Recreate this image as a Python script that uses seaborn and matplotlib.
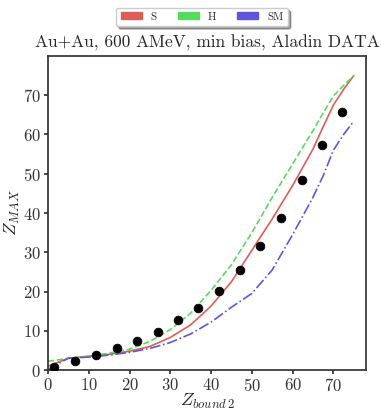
import numpy as np
import pandas as pd
import seaborn as sns
import matplotlib
matplotlib.use("Agg")
import matplotlib.pyplot as plt
from matplotlib.patches import Patch

# ---- data ----
zb_model = [0, 2.5, 5, 10, 15, 20, 25, 30, 35, 40, 45, 50, 55, 60, 65, 67.5, 70, 72.5, 75]
zmax_S = [1.0, 2.0, 3.0, 3.5, 4.0, 4.8, 6.0, 8.3, 11.5, 16.3, 22.5, 30.5, 38.5, 47.0, 56.3, 62.0, 67.5, 71.5, 75.0]
zmax_H = [2.2, 2.6, 3.0, 3.5, 4.3, 5.3, 7.3, 10.3, 14.5, 20.3, 26.8, 35.0, 44.0, 52.5, 61.0, 65.5, 69.8, 72.5, 75.0]
zmax_SM = [0.0, 1.6, 3.0, 3.3, 3.8, 4.5, 5.5, 7.0, 9.2, 12.2, 16.0, 19.5, 25.5, 34.5, 44.0, 49.5, 56.0, 60.0, 63.4]

zb_data = [1.5, 6.6, 11.8, 16.9, 21.9, 26.9, 31.9, 36.9, 41.9, 47.0, 52.1, 57.2, 62.2, 67.1, 72.2]
zmax_data = [0.8, 2.2, 3.8, 5.5, 7.3, 9.8, 12.7, 15.9, 20.2, 25.4, 31.7, 38.8, 48.5, 57.2, 65.8]

labels = ["S", "H", "SM"]

sns.set_theme(style="ticks")
plt.rcParams["font.family"] = "serif"
plt.rcParams["font.serif"] = ["cmr10", "DejaVu Serif"]
plt.rcParams["mathtext.fontset"] = "cm"
plt.rcParams["axes.formatter.use_mathtext"] = True

colors = sns.color_palette("hls", 3)

fig = plt.figure(figsize=(3.82, 4.11), dpi=100)
ax = fig.add_axes([48 / 382, 1 - 370 / 411, (366 - 48) / 382, (370 - 56) / 411])

df = pd.DataFrame({"zb": zb_model * 3,
                   "zmax": zmax_S + zmax_H + zmax_SM,
                   "model": ["S"] * len(zb_model) + ["H"] * len(zb_model) + ["SM"] * len(zb_model)})
styles = {"S": "-", "H": "--", "SM": "-."}
for lab, col in zip(labels, colors):
    sub = df[df["model"] == lab]
    sns.lineplot(data=sub, x="zb", y="zmax", ax=ax, color=col, linestyle=styles[lab], lw=1.2)

sns.scatterplot(x=zb_data, y=zmax_data, ax=ax, color="black", s=40, edgecolor="black", zorder=5)

ax.set_xlim(0, 78)
ax.set_ylim(0, 80)
ax.set_xticks([0, 10, 20, 30, 40, 50, 60, 70])
ax.set_yticks([0, 10, 20, 30, 40, 50, 60, 70])
ax.tick_params(labelsize=12, length=3, pad=2, colors="#333333", labelcolor="#333333")
for s in ax.spines.values():
    s.set_color("#333333")
ax.set_xlabel(r"$Z_{bound\,2}$", fontsize=13, labelpad=-1.5)
ax.set_ylabel(r"$Z_{MAX}$", fontsize=13, labelpad=1)
ax.set_title("Au+Au, 600 AMeV, min bias, Aladin DATA", fontsize=12.5, pad=6)

handles = [Patch(facecolor=c, edgecolor=c) for c in colors]
fig.legend(handles, labels, loc="center", bbox_to_anchor=(202 / 382, 1 - 17 / 411), ncol=3,
           fontsize=8, frameon=True, fancybox=True, shadow=True, handlelength=1.9,
           handleheight=0.55, columnspacing=1.9, borderpad=0.4)

fig.savefig("out.png", dpi=100)
